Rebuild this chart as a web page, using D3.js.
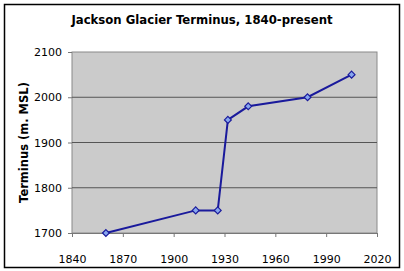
<!DOCTYPE html>
<html>
<head>
<meta charset="utf-8">
<script src="https://cdn.jsdelivr.net/npm/d3@7"></script>
<style>
  body { margin: 0; background: #fff; }
  svg text { font-family: Verdana, "DejaVu Sans", sans-serif; fill: #000; }
</style>
</head>
<body>
<div id="chart"></div>
<script>
// chart data
const years = [1860, 1913, 1926, 1932, 1944, 1979, 2005];
const terminus = [1700, 1750, 1750, 1950, 1980, 2000, 2050];
const xTicks = [1840, 1870, 1900, 1930, 1960, 1990, 2020];
const yTicks = [1700, 1800, 1900, 2000, 2100];
const title = 'Jackson Glacier Terminus, 1840-present';
const yLabel = 'Terminus (m. MSL)';

const width = 404, height = 271;
const margin = {top: 52, right: 27, bottom: 38, left: 72};

const svg = d3.select('#chart').append('svg')
  .attr('width', width)
  .attr('height', height);

// outer frame
svg.append('rect')
  .attr('x', 4.5).attr('y', 4.5)
  .attr('width', 395).attr('height', 263)
  .attr('fill', 'none')
  .attr('stroke', '#000')
  .attr('stroke-width', 1.5);

const xScale = d3.scaleLinear()
  .domain([1840, 2020])
  .range([margin.left, width - margin.right]);

const yScale = d3.scaleLinear()
  .domain([1700, 2100])
  .range([height - margin.bottom, margin.top]);

// plot area
svg.append('rect')
  .attr('x', xScale(1840)).attr('y', yScale(2100))
  .attr('width', xScale(2020) - xScale(1840))
  .attr('height', yScale(1700) - yScale(2100))
  .attr('fill', '#cbcbcb')
  .attr('stroke', '#8a8a8a')
  .attr('stroke-width', 1);

// gridlines
svg.append('g')
  .selectAll('line')
  .data(yTicks.slice(1, -1))
  .enter().append('line')
  .attr('x1', xScale(1840)).attr('x2', xScale(2020))
  .attr('y1', d => yScale(d)).attr('y2', d => yScale(d))
  .attr('stroke', '#555')
  .attr('stroke-width', 1);

// axes
const xAxis = d3.axisBottom(xScale)
  .tickValues(xTicks)
  .tickFormat(d3.format('d'))
  .tickSizeInner(4)
  .tickSizeOuter(0)
  .tickPadding(18);

const yAxis = d3.axisLeft(yScale)
  .tickValues(yTicks)
  .tickFormat(d3.format('d'))
  .tickSizeInner(4)
  .tickSizeOuter(0)
  .tickPadding(6);

const gx = svg.append('g')
  .attr('transform', 'translate(0,' + yScale(1700) + ')')
  .call(xAxis);
gx.select('.domain').attr('stroke', '#777');
gx.selectAll('.tick line').attr('stroke', '#777');
gx.selectAll('.tick text').style('font-size', '11px');

const gy = svg.append('g')
  .attr('transform', 'translate(' + xScale(1840) + ',0)')
  .call(yAxis);
gy.select('.domain').remove();
gy.selectAll('.tick line').attr('stroke', '#777');
gy.selectAll('.tick text').style('font-size', '11px');

// series line
const line = d3.line()
  .x((d, i) => xScale(years[i]))
  .y(d => yScale(d));

svg.append('path')
  .datum(terminus)
  .attr('d', line)
  .attr('fill', 'none')
  .attr('stroke', '#1a1a9c')
  .attr('stroke-width', 2);

// diamond markers
svg.append('g')
  .selectAll('path')
  .data(terminus)
  .enter().append('path')
  .attr('d', d3.symbol().type(d3.symbolDiamond2).size(30))
  .attr('transform', (d, i) => 'translate(' + xScale(years[i]) + ',' + yScale(d) + ')')
  .attr('fill', '#86a6ee')
  .attr('stroke', '#1a1a9c')
  .attr('stroke-width', 1.2);

// title
svg.append('text')
  .attr('x', 202)
  .attr('y', 24)
  .attr('text-anchor', 'middle')
  .style('font-size', '11.7px')
  .style('font-weight', 'bold')
  .text(title);

// y label
svg.append('text')
  .attr('transform', 'translate(28,' + ((yScale(1700) + yScale(2100)) / 2) + ') rotate(-90)')
  .attr('text-anchor', 'middle')
  .style('font-size', '11.5px')
  .style('font-weight', 'bold')
  .text(yLabel);
</script>
</body>
</html>
